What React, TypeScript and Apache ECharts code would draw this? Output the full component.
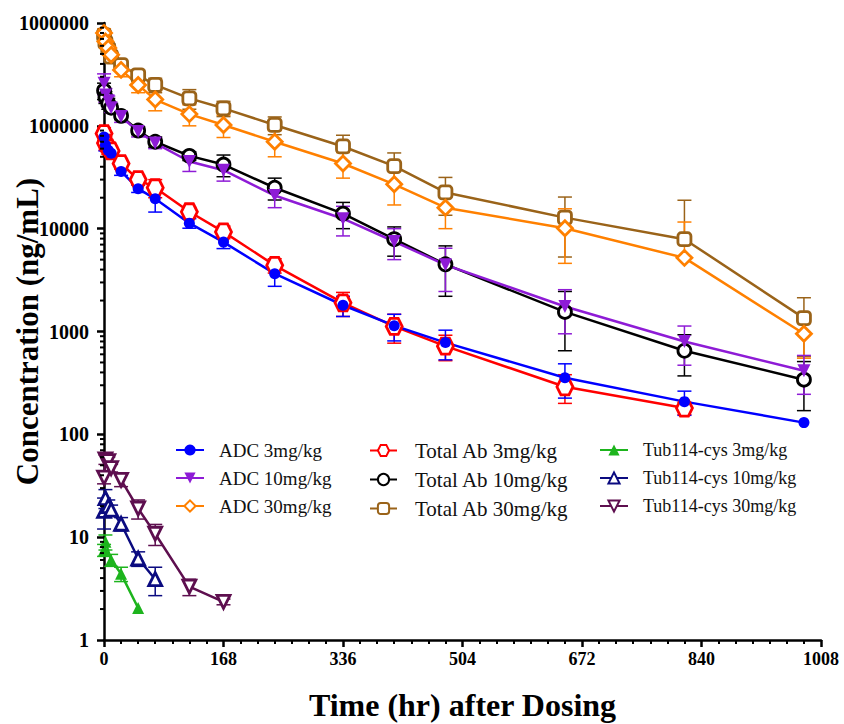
import React, { useEffect, useRef } from "react";
import * as echarts from "echarts";

// ---------- data ----------
const timesMain = [0.083, 2, 6, 10, 24, 48, 72, 120, 168, 240, 336, 408, 480, 648, 816, 984];
const timesTab3 = [0.083, 2, 6, 10, 24, 48, 72, 120, 168, 240, 336, 408, 480, 648, 816];
const timesTub3 = [0.083, 2, 10, 24, 48];
const timesTub10 = [0.083, 2, 6, 10, 24, 48, 72];
const timesTub30 = [0.083, 2, 6, 10, 24, 48, 72, 120, 168];

const adc3 = [78000, 65000, 58000, 54000, 36000, 24500, 19500, 11300, 7400, 3650, 1800, 1140, 780, 355, 208, 130];
const adc3Sd = [12000, 8000, 0, 0, 3000, 2000, 5000, 1200, 1000, 900, 400, 330, 250, 130, 55, 0];
const adc10 = [260000, 200000, 175000, 150000, 123000, 88000, 68000, 45000, 37000, 21000, 12500, 7500, 4450, 1750, 800, 415];
const adc10Sd = [60000, 30000, 20000, 15000, 15000, 10000, 8000, 9000, 8000, 5000, 4000, 2500, 2000, 800, 330, 170];
const adc30 = [800000, 660000, 570000, 490000, 350000, 250000, 180000, 130000, 102000, 70000, 43000, 27000, 16000, 10100, 5200, 950];
const adc30Sd = [80000, 60000, 60000, 50000, 50000, 40000, 40000, 30000, 25000, 20000, 12000, 10000, 6000, 5500, 6400, 400];
const tab3 = [84000, 68000, 61000, 57000, 43000, 30000, 25000, 14600, 9300, 4400, 1900, 1120, 720, 290, 180];
const tab3Sd = [12000, 10000, 8000, 6000, 5000, 3000, 5000, 1500, 1300, 700, 500, 350, 200, 90, 25];
const tab10 = [220000, 190000, 165000, 150000, 125000, 90000, 70000, 51000, 42000, 25000, 14000, 7900, 4500, 1550, 650, 340];
const tab10Sd = [40000, 25000, 20000, 15000, 10000, 8000, 8000, 5000, 10000, 6000, 4000, 2500, 2300, 900, 280, 170];
const tab30 = [760000, 650000, 560000, 470000, 390000, 310000, 250000, 185000, 148000, 102000, 63000, 40500, 22500, 12800, 7900, 1350];
const tab30Sd = [60000, 50000, 50000, 40000, 40000, 40000, 40000, 40000, 25000, 20000, 18000, 14000, 9000, 7500, 11000, 780];
const tub3 = [7.5, 9.0, 6.0, 4.4, 2.05];
const tub3Sd = [1, 1.5, 0.8, 0.7, 0];
const tub10 = [18, 24, 20, 18.5, 13.5, 6.2, 3.9];
const tub10Sd = [6, 5, 3, 2, 2, 1, 1.2];
const tub30 = [38, 57, 55, 47, 36, 19, 10.8, 3.3, 2.35];
const tub30Sd = [5, 6, 5, 4, 5, 4, 2.5, 0.6, 0.15];

const xTicks = [0, 168, 336, 504, 672, 840, 1008];
const yDecades = [1, 10, 100, 1000, 10000, 100000];
const yMinorMultipliers = [2, 3, 4, 5, 6, 7, 8, 9];

const legendCol1 = ["ADC 3mg/kg", "ADC 10mg/kg", "ADC 30mg/kg"];
const legendCol2 = ["Total Ab 3mg/kg", "Total Ab 10mg/kg", "Total Ab 30mg/kg"];
const legendCol3 = ["Tub114-cys 3mg/kg", "Tub114-cys 10mg/kg", "Tub114-cys 30mg/kg"];

const HEX = "path://M-1,0 L-0.5,-0.866 L0.5,-0.866 L1,0 L0.5,0.866 L-0.5,0.866Z";
const SERIF = "'Liberation Serif', 'Times New Roman', serif";

type Spec = {
  name: string;
  times: number[];
  vals: number[];
  sd: number[];
  color: string;
  symbol: string;
  size: number;
  hollow: boolean;
  rotate?: number;
};

const specs: Spec[] = [
  { name: legendCol3[0], times: timesTub3, vals: tub3, sd: tub3Sd, color: "#1DB41D", symbol: "triangle", size: 12, hollow: false },
  { name: legendCol3[1], times: timesTub10, vals: tub10, sd: tub10Sd, color: "#0B0B80", symbol: "triangle", size: 13, hollow: true },
  { name: legendCol3[2], times: timesTub30, vals: tub30, sd: tub30Sd, color: "#5E0F4F", symbol: "triangle", size: 13, hollow: true, rotate: 180 },
  { name: legendCol2[2], times: timesMain, vals: tab30, sd: tab30Sd, color: "#9A6319", symbol: "roundRect", size: 13, hollow: true },
  { name: legendCol1[2], times: timesMain, vals: adc30, sd: adc30Sd, color: "#FF8000", symbol: "diamond", size: 15, hollow: true },
  { name: legendCol2[1], times: timesMain, vals: tab10, sd: tab10Sd, color: "#000000", symbol: "circle", size: 13, hollow: true },
  { name: legendCol1[1], times: timesMain, vals: adc10, sd: adc10Sd, color: "#8E1BD6", symbol: "triangle", size: 13, hollow: false, rotate: 180 },
  { name: legendCol2[0], times: timesTab3, vals: tab3, sd: tab3Sd, color: "#FF0000", symbol: HEX, size: 16, hollow: true },
  { name: legendCol1[0], times: timesMain, vals: adc3, sd: adc3Sd, color: "#0000FF", symbol: "circle", size: 11, hollow: false },
];

function lineSeries(s: Spec) {
  return {
    name: s.name,
    type: "line",
    data: s.times.map((t, i) => [t, s.vals[i]]),
    symbol: s.symbol,
    symbolSize: s.size,
    symbolRotate: s.rotate || 0,
    showAllSymbol: true,
    lineStyle: { color: s.color, width: 2.5 },
    itemStyle: s.hollow
      ? { color: "#ffffff", borderColor: s.color, borderWidth: 2.8 }
      : { color: s.color, borderColor: s.color, borderWidth: 0 },
    emphasis: { disabled: true },
    z: 3,
  };
}

function errorSeries(s: Spec) {
  const color = s.color;
  return {
    name: s.name + " SD",
    type: "custom",
    data: s.times.map((t, i) => [t, s.vals[i], s.sd[i]]).filter((d) => d[2] > 0),
    encode: { x: 0, y: 1 },
    silent: true,
    z: 2,
    renderItem: (_p: any, api: any) => {
      const t = api.value(0);
      const v = api.value(1);
      const sd = api.value(2);
      const w = 7;
      const mid = api.coord([t, v]);
      const hi = api.coord([t, v + sd]);
      const children: any[] = [
        { type: "line", shape: { x1: mid[0], y1: mid[1], x2: hi[0], y2: hi[1] }, style: { stroke: color, lineWidth: 1.5 } },
        { type: "line", shape: { x1: hi[0] - w, y1: hi[1], x2: hi[0] + w, y2: hi[1] }, style: { stroke: color, lineWidth: 1.5 } },
      ];
      if (v - sd > 0) {
        const lo = api.coord([t, v - sd]);
        children.push(
          { type: "line", shape: { x1: mid[0], y1: mid[1], x2: lo[0], y2: lo[1] }, style: { stroke: color, lineWidth: 1.5 } },
          { type: "line", shape: { x1: lo[0] - w, y1: lo[1], x2: lo[0] + w, y2: lo[1] }, style: { stroke: color, lineWidth: 1.5 } }
        );
      }
      return { type: "group", children };
    },
  };
}

function minorTickSeries() {
  const vals: number[] = [];
  yDecades.forEach((d) => yMinorMultipliers.forEach((m) => vals.push(d * m)));
  return {
    type: "custom",
    name: "yMinor",
    data: vals.map((v) => [0, v]),
    encode: { x: 0, y: 1 },
    silent: true,
    z: 5,
    renderItem: (_p: any, api: any) => {
      const p = api.coord([0, api.value(1)]);
      return {
        type: "line",
        shape: { x1: p[0] - 4, y1: p[1], x2: p[0], y2: p[1] },
        style: { stroke: "#000", lineWidth: 2 },
      };
    },
  };
}

function legend(data: string[], left: number, iconW: number, textPad: number, fontSize: number) {
  return {
    data,
    orient: "vertical",
    left,
    top: 440,
    padding: 0,
    itemWidth: iconW,
    itemHeight: 14,
    itemGap: 8,
    selectedMode: false,
    textStyle: { fontFamily: SERIF, fontSize, color: "#111", lineHeight: 20, padding: [0, 0, 0, textPad] },
  };
}

export default function App() {
  const ref = useRef<HTMLDivElement>(null);
  useEffect(() => {
    if (!ref.current) return;
    const chart = echarts.init(ref.current, undefined, { renderer: "svg" });
    chart.setOption({
      animation: false,
      backgroundColor: "#ffffff",
      textStyle: { fontFamily: SERIF },
      grid: { left: 104, right: 23, top: 23, bottom: 84, containLabel: false, outerBoundsMode: "none" },
      legend: [
        legend(legendCol1, 175, 28, 10, 19),
        legend(legendCol2, 369, 27, 13, 21),
        legend(legendCol3, 599, 28, 10, 18),
      ],
      xAxis: {
        type: "value",
        min: xTicks[0],
        max: xTicks[xTicks.length - 1],
        interval: xTicks[1] - xTicks[0],
        name: "Time (hr) after Dosing",
        nameLocation: "middle",
        nameGap: 49,
        nameMoveOverlap: false,
        nameTextStyle: { fontFamily: SERIF, fontSize: 32, fontWeight: "bold", color: "#000" },
        axisLine: { show: true, lineStyle: { color: "#000", width: 2.5 } },
        axisTick: { show: true, length: 7, lineStyle: { color: "#000", width: 2.5 } },
        minorTick: { show: true, splitNumber: 7, length: 4, lineStyle: { color: "#000", width: 2 } },
        splitLine: { show: false },
        axisLabel: {
          fontFamily: SERIF,
          fontSize: 18,
          fontWeight: "bold",
          color: "#000",
          margin: 10,
          formatter: (v: number) => String(Math.round(v)),
        },
      },
      yAxis: {
        type: "log",
        logBase: 10,
        min: 1,
        max: 1000000,
        name: "Concentration (ng/mL)",
        nameLocation: "middle",
        nameGap: 61,
        nameMoveOverlap: false,
        nameTextStyle: { fontFamily: SERIF, fontSize: 31, fontWeight: "bold", color: "#000" },
        axisLine: { show: true, lineStyle: { color: "#000", width: 2.5 } },
        axisTick: { show: true, length: 7, lineStyle: { color: "#000", width: 2.5 } },
        splitLine: { show: false },
        axisLabel: {
          fontFamily: SERIF,
          fontSize: 20,
          fontWeight: "bold",
          color: "#000",
          margin: 15,
          formatter: (v: number) => String(Math.round(v)),
        },
      },
      series: [
        minorTickSeries(),
        ...specs.map(errorSeries),
        ...specs.map(lineSeries),
      ],
    });
    return () => chart.dispose();
  }, []);
  return (
    <div
      ref={ref}
      style={{ position: "fixed", left: 0, top: 0, width: 844, height: 724, background: "#fff" }}
    />
  );
}
